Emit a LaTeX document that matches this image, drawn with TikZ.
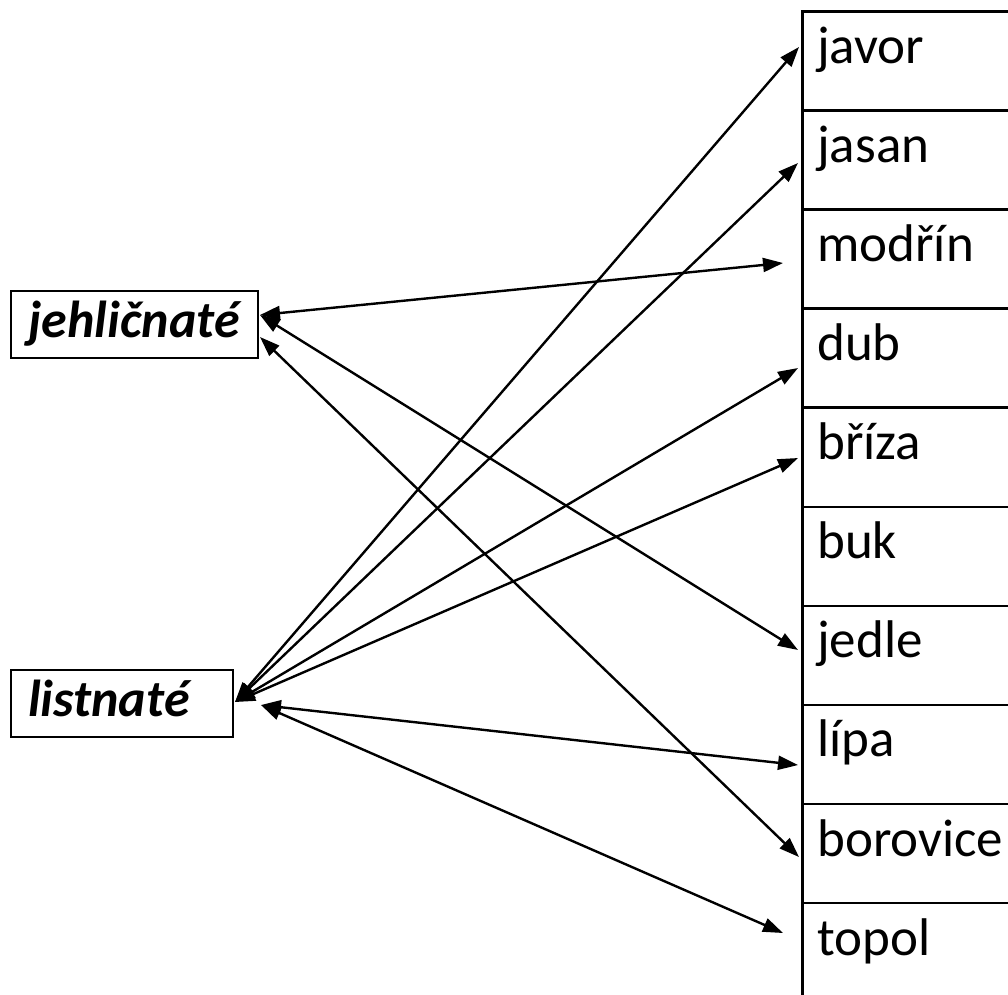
\documentclass[tikz,border=0pt]{standalone}
\usepackage{fontspec}
\setmainfont{Carlito}
\usetikzlibrary{arrows.meta}
\tikzset{
  rowcell/.style={draw, line width=2.5pt, anchor=north west, inner xsep=15pt, inner ysep=0pt,
    text height=52pt, text depth=47.1pt, text width=240pt, align=left,
    font=\fontsize{53}{60}\selectfont},
  catbox/.style={draw, line width=2.2pt, inner ysep=0pt, text height=39pt, text depth=13pt,
    minimum height=67pt, align=left, font=\fontsize{52}{60}\selectfont\bfseries\itshape},
  link/.style={line width=2.4pt, {Triangle[length=20pt,width=14pt]}-{Triangle[length=20pt,width=14pt]}}
}
\begin{document}
\begin{tikzpicture}[x=1pt,y=-1pt]
\useasboundingbox (0,0) rectangle (1008,994);
\clip (0,0) rectangle (1008,994);
% table rows
\node[rowcell] (javor) at (801,10) {javor};
\node[rowcell] (jasan) at (801,109.1) {jasan};
\node[rowcell] (modrin) at (801,208.2) {modřín};
\node[rowcell] (dub) at (801,307.3) {dub};
\node[rowcell] (briza) at (801,406.4) {bříza};
\node[rowcell] (buk) at (801,505.5) {buk};
\node[rowcell] (jedle) at (801,604.6) {jedle};
\node[rowcell] (lipa) at (801,703.7) {lípa};
\node[rowcell] (borovice) at (801,802.8) {borovice};
\node[rowcell] (topol) at (801,901.9) {topol};
% category boxes
\node[catbox, anchor=north west, inner xsep=17.5pt, text width=212pt] (jeh) at (10,290) {jehličnaté};
\node[catbox, anchor=north west, inner xsep=17pt, text width=188pt] (list) at (10,669) {listnaté};
% arrow ends
\coordinate (jA) at (260,315);
\coordinate (jB) at (260,337);
\coordinate (lA) at (235,702);
\coordinate (lB) at (261,705);
\coordinate (tJavor) at (799,47);
\coordinate (tJasan) at (798,163);
\coordinate (tModrin) at (783,263);
\coordinate (tDub) at (798,368);
\coordinate (tBriza) at (798,458);
\coordinate (tJedle) at (798,650);
\coordinate (tLipa) at (798,765);
\coordinate (tBorovice) at (799,857);
\coordinate (tTopol) at (783,933);
% connectors
\draw[link] (jA) -- (tModrin);
\draw[link] (jA) -- (tJedle);
\draw[link] (jB) -- (tBorovice);
\draw[link] (lA) -- (tJavor);
\draw[link] (lA) -- (tJasan);
\draw[link] (lA) -- (tDub);
\draw[link] (lA) -- (tBriza);
\draw[link] (lB) -- (tLipa);
\draw[link] (lB) -- (tTopol);
\end{tikzpicture}
\end{document}
